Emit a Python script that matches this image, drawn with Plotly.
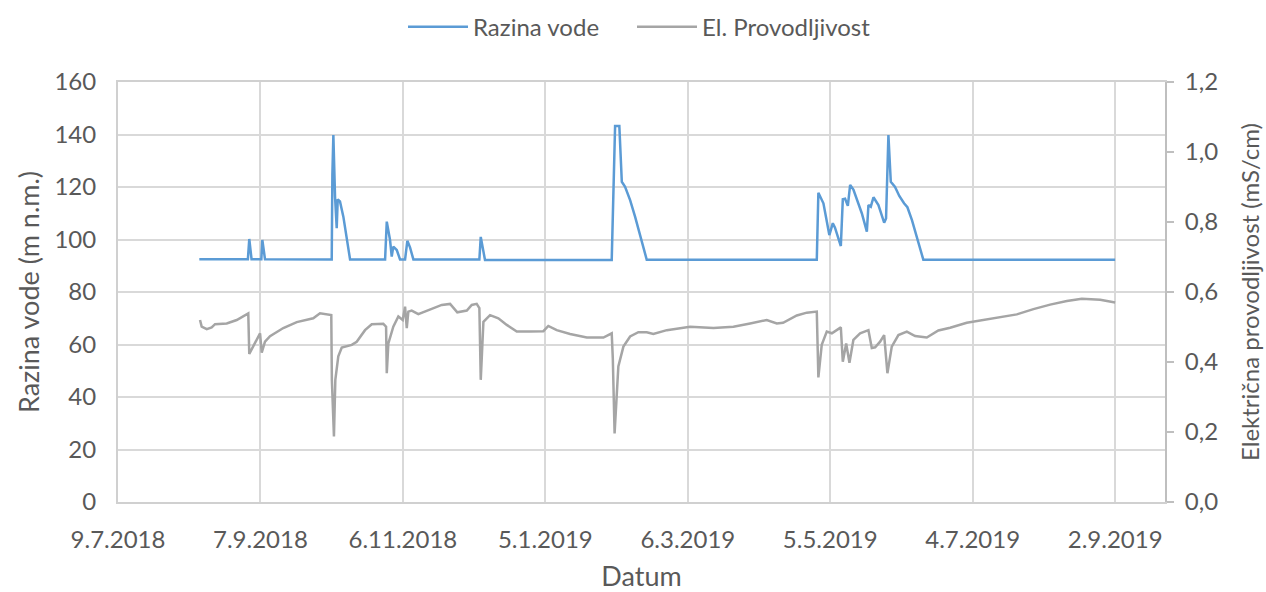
import plotly.graph_objects as go

# Razina vode (m n.m.)
level_dates = [
    "2018-08-12 06:00", "2018-09-01 17:00", "2018-09-02 07:00", "2018-09-03 06:00",
    "2018-09-07 09:00", "2018-09-07 19:00", "2018-09-08 22:00",
    "2018-10-07 00:30", "2018-10-07 07:00", "2018-10-07 17:00", "2018-10-08 10:00",
    "2018-10-09 03:00", "2018-10-09 13:00", "2018-10-10 12:00", "2018-10-11 22:00",
    "2018-10-14 18:00", "2018-10-29 12:00", "2018-10-30 05:00", "2018-10-31 14:00",
    "2018-11-01 07:00", "2018-11-01 23:00", "2018-11-03 10:00", "2018-11-04 19:00",
    "2018-11-06 22:00", "2018-11-07 21:00", "2018-11-09 00:00", "2018-11-10 10:00",
    "2018-12-08 05:00", "2018-12-08 19:00", "2018-12-10 14:00",
    "2019-02-01 23:00", "2019-02-03 09:00", "2019-02-05 04:00", "2019-02-06 05:00",
    "2019-02-07 14:00", "2019-02-09 17:00", "2019-02-11 19:00", "2019-02-16 17:00",
    "2019-04-29 08:00", "2019-04-30 00:00", "2019-05-02 03:00", "2019-05-04 15:00",
    "2019-05-06 02:00", "2019-05-07 00:00", "2019-05-09 11:00", "2019-05-10 07:00",
    "2019-05-11 06:00", "2019-05-12 10:00", "2019-05-13 09:00", "2019-05-14 18:00",
    "2019-05-18 07:00", "2019-05-20 10:00", "2019-05-21 02:00", "2019-05-22 02:00",
    "2019-05-23 05:00", "2019-05-25 07:00", "2019-05-27 17:00", "2019-05-28 12:00",
    "2019-05-29 12:00", "2019-05-30 12:00", "2019-06-01 07:00", "2019-06-03 02:00",
    "2019-06-05 02:00", "2019-06-06 12:00", "2019-06-08 10:00", "2019-06-13 05:00",
    "2019-09-02 00:00",
]
level_values = [
    92.5, 92.5, 100.2, 92.5,
    92.5, 99.8, 92.5,
    92.4, 124.6, 139.8, 116.3,
    104.3, 115.3, 114.5, 108.7,
    92.4, 92.4, 106.8, 99.8,
    93.5, 97.3, 96.0, 92.4,
    92.4, 99.5, 97.0, 92.4,
    92.4, 101.0, 92.2,
    92.2, 143.2, 143.2, 122.0,
    120.1, 115.0, 108.7, 92.3,
    92.3, 117.8, 113.8, 101.7,
    106.2, 104.5, 97.5, 115.3,
    115.5, 112.8, 120.8, 119.0,
    110.0, 103.0, 113.1, 112.5,
    116.1, 113.1, 106.4, 108.0,
    139.8, 122.0, 120.0, 116.6,
    113.8, 112.3, 107.4, 92.3,
    92.3,
]

# Električna provodljivost (mS/cm)
ec_dates = [
    "2018-08-12 13:00", "2018-08-13 06:00", "2018-08-15 09:00", "2018-08-17 11:00",
    "2018-08-18 21:00", "2018-08-23 19:00", "2018-08-28 00:00", "2018-09-01 21:00",
    "2018-09-02 07:00", "2018-09-04 00:00", "2018-09-06 20:00", "2018-09-07 13:00",
    "2018-09-08 22:00", "2018-09-11 01:00", "2018-09-16 15:00", "2018-09-22 07:00",
    "2018-09-29 06:00", "2018-10-02 02:00", "2018-10-06 20:00", "2018-10-07 02:00",
    "2018-10-07 23:00", "2018-10-08 13:00", "2018-10-09 19:00", "2018-10-11 06:00",
    "2018-10-15 11:00", "2018-10-17 13:00", "2018-10-21 01:00", "2018-10-23 21:00",
    "2018-10-28 18:00", "2018-10-29 22:00", "2018-10-30 05:00", "2018-10-30 21:00",
    "2018-11-01 23:00", "2018-11-04 02:00", "2018-11-05 22:00", "2018-11-06 22:00",
    "2018-11-07 15:00", "2018-11-08 07:00", "2018-11-09 17:00", "2018-11-12 12:00",
    "2018-11-17 10:00", "2018-11-22 09:00", "2018-11-25 21:00", "2018-11-28 22:00",
    "2018-12-02 22:00", "2018-12-05 00:00", "2018-12-07 02:00", "2018-12-08 05:00",
    "2018-12-08 19:00", "2018-12-09 22:00", "2018-12-12 17:00", "2018-12-16 05:00",
    "2018-12-19 18:00", "2018-12-23 23:00", "2018-12-29 13:00", "2019-01-04 04:00",
    "2019-01-06 06:00", "2019-01-09 19:00", "2019-01-15 10:00", "2019-01-22 11:00",
    "2019-01-29 11:00", "2019-02-01 23:00", "2019-02-02 10:00", "2019-02-03 04:00",
    "2019-02-04 18:00", "2019-02-06 21:00", "2019-02-09 17:00", "2019-02-13 04:00",
    "2019-02-16 17:00", "2019-02-19 12:00", "2019-02-25 04:00", "2019-03-06 23:00",
    "2019-03-16 19:00", "2019-03-25 05:00", "2019-04-01 06:00", "2019-04-08 06:00",
    "2019-04-12 12:00", "2019-04-15 03:00", "2019-04-20 22:00", "2019-04-25 03:00",
    "2019-04-29 08:00", "2019-04-29 16:00", "2019-04-30 00:00", "2019-05-01 10:00",
    "2019-05-03 13:00", "2019-05-05 16:00", "2019-05-07 18:00", "2019-05-09 11:00",
    "2019-05-10 07:00", "2019-05-11 17:00", "2019-05-13 02:00", "2019-05-14 18:00",
    "2019-05-17 14:00", "2019-05-21 02:00", "2019-05-22 12:00", "2019-05-23 22:00",
    "2019-05-26 00:00", "2019-05-27 17:00", "2019-05-29 02:00", "2019-05-30 22:00",
    "2019-06-02 17:00", "2019-06-06 06:00", "2019-06-09 18:00", "2019-06-14 16:00",
    "2019-06-19 13:00", "2019-06-24 12:00", "2019-07-01 12:00", "2019-07-08 12:00",
    "2019-07-15 13:00", "2019-07-22 14:00", "2019-07-29 14:00", "2019-08-05 15:00",
    "2019-08-12 16:00", "2019-08-18 23:00", "2019-08-26 17:00", "2019-09-02 00:00",
]
ec_values = [
    0.520, 0.501, 0.494, 0.499,
    0.508, 0.510, 0.520, 0.539,
    0.423, 0.444, 0.482, 0.427,
    0.458, 0.474, 0.497, 0.514,
    0.525, 0.539, 0.534, 0.349,
    0.187, 0.349, 0.416, 0.441,
    0.449, 0.458, 0.491, 0.508,
    0.509, 0.501, 0.368, 0.453,
    0.501, 0.530, 0.520, 0.558,
    0.497, 0.544, 0.547, 0.537,
    0.551, 0.563, 0.566, 0.542,
    0.547, 0.563, 0.566, 0.554,
    0.349, 0.515, 0.534, 0.525,
    0.506, 0.487, 0.487, 0.488,
    0.503, 0.491, 0.480, 0.470,
    0.470, 0.482, 0.410, 0.196,
    0.387, 0.444, 0.473, 0.485,
    0.485, 0.480, 0.491, 0.501,
    0.497, 0.501, 0.510, 0.520,
    0.510, 0.512, 0.533, 0.541,
    0.544, 0.450, 0.356, 0.449,
    0.487, 0.482, 0.491, 0.499,
    0.401, 0.453, 0.398, 0.463,
    0.482, 0.491, 0.440, 0.442,
    0.458, 0.477, 0.368, 0.444,
    0.477, 0.487, 0.474, 0.470,
    0.490, 0.498, 0.512, 0.520,
    0.528, 0.536, 0.551, 0.564,
    0.574, 0.581, 0.578, 0.570,
]

txt = "#595959"
font = "Lato"
W, H = 1266, 592

fig = go.Figure()

fig.add_trace(go.Scatter(
    x=level_dates, y=level_values,
    mode="lines", name="Razina vode",
    line=dict(color="#5b9bd5", width=2.5),
    legend="legend",
))
fig.add_trace(go.Scatter(
    x=ec_dates, y=ec_values,
    mode="lines", name="El. Provodljivost",
    line=dict(color="#a5a5a5", width=2.5),
    yaxis="y2",
    legend="legend2",
))

# one legend per series so the spacing between the two entries can be set
legend_style = dict(
    orientation="h", xanchor="left", xref="container",
    y=0.992, yanchor="top", yref="container",
    font=dict(size=24, color=txt), itemwidth=60,
    bgcolor="rgba(0,0,0,0)",
)

fig.update_layout(
    width=W, height=H,
    paper_bgcolor="white", plot_bgcolor="white",
    separators=",.",
    font=dict(family=font, size=24, color=txt),
    margin=dict(l=118, r=101, t=82, b=90),
    showlegend=True,
    legend=dict(legend_style, x=403 / W),
    legend2=dict(legend_style, x=632 / W),
    xaxis=dict(
        type="date", automargin=False,
        range=["2018-07-09", "2019-09-23"],
        tick0="2018-07-09", dtick=60 * 86400000,
        tickformat="%-d.%-m.%Y",
        showgrid=True, gridcolor="#d9d9d9", gridwidth=2,
        showline=True, linecolor="#d0d0d0", linewidth=2, mirror=True,
        ticks="", ticklabelstandoff=15,
        title=dict(text="Datum", font=dict(size=27, color=txt), standoff=15),
        zeroline=False,
    ),
    yaxis=dict(
        automargin=False,
        range=[0, 160], dtick=20,
        showgrid=True, gridcolor="#d9d9d9", gridwidth=2,
        showline=True, linecolor="#d0d0d0", linewidth=2,
        ticks="", ticklabelstandoff=15,
        title=dict(text="Razina vode (m n.m.)", font=dict(size=27, color=txt), standoff=7),
        zeroline=False,
    ),
    yaxis2=dict(
        overlaying="y", side="right", automargin=False,
        range=[0, 1.2], dtick=0.2, tickformat=".1f",
        showgrid=False,
        showline=True, linecolor="#bfbfbf", linewidth=2,
        ticks="outside", ticklen=7, tickwidth=2, tickcolor="#bfbfbf",
        ticklabelstandoff=6,
        title=dict(text="Električna provodljivost (mS/cm)", font=dict(size=24, color=txt), standoff=25),
        zeroline=False,
    ),
)

# page body has a default 8px margin; drop it so the figure sits at (0, 0)
fig.write_html(
    "out.html",
    config={"displayModeBar": False},
    post_script="document.body.style.margin = '0';",
)
